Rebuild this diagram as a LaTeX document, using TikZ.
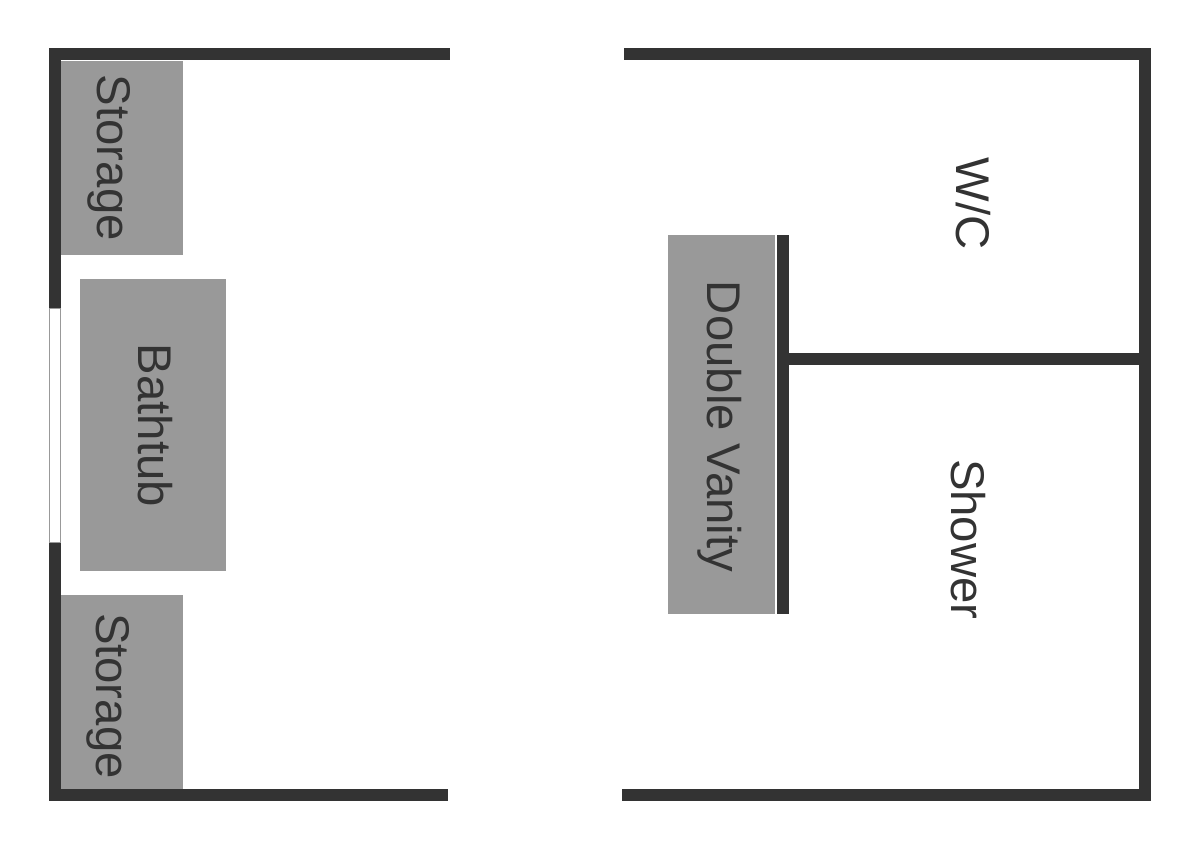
\documentclass[tikz,border=0pt]{standalone}
\usepackage{fontspec}
\setmainfont{Liberation Sans}
\definecolor{wallc}{HTML}{333333}
\definecolor{fixc}{HTML}{999999}
\tikzset{
  wall/.style={fill=wallc,draw=none},
  fixture/.style={fill=fixc,draw=none},
  lab/.style={rotate=-90,anchor=base west,inner sep=0pt,outer sep=0pt,text=wallc,font=\fontsize{47.3}{47.3}\selectfont},
}
\begin{document}
\begin{tikzpicture}[x=1pt,y=-1pt]
\useasboundingbox (0,0) rectangle (1200,850);
\fill[white] (0,0) rectangle (1200,850);
% fixtures
\fill[fixture] (61,61) rectangle (183,255);
\fill[fixture] (61,595) rectangle (183,789);
\fill[fixture] (80,279) rectangle (226,571);
\fill[fixture] (668,235.5) rectangle (775,614);
% left walls
\fill[wall] (48.5,48) rectangle (449.5,60.5);
\fill[wall] (48.5,48) rectangle (60.5,308);
\fill[wall] (48.5,542) rectangle (60.5,801);
\fill[wall] (48.5,789) rectangle (447.5,801);
% window
\draw[fixc,line width=0.8pt,fill=white] (49,308) rectangle (60.5,542);
% right walls
\fill[wall] (624,48) rectangle (1151,60.5);
\fill[wall] (1139,48) rectangle (1151,801);
\fill[wall] (622,789) rectangle (1151,801);
\fill[wall] (777,235.5) rectangle (789,614);
\fill[wall] (789,353) rectangle (1139,365);
% labels
\node[lab] (st1) at (97,75) {Storage};
\node[lab] (st2) at (96,613) {Storage};
\node[lab] (bt) at (138,344) {Bathtub};
\node[lab] (dv) at (707,281) {Double Vanity};
\node[lab] (wc) at (956,158) {W/C};
\node[lab] (sh) at (951,459) {Shower};
\end{tikzpicture}
\end{document}
